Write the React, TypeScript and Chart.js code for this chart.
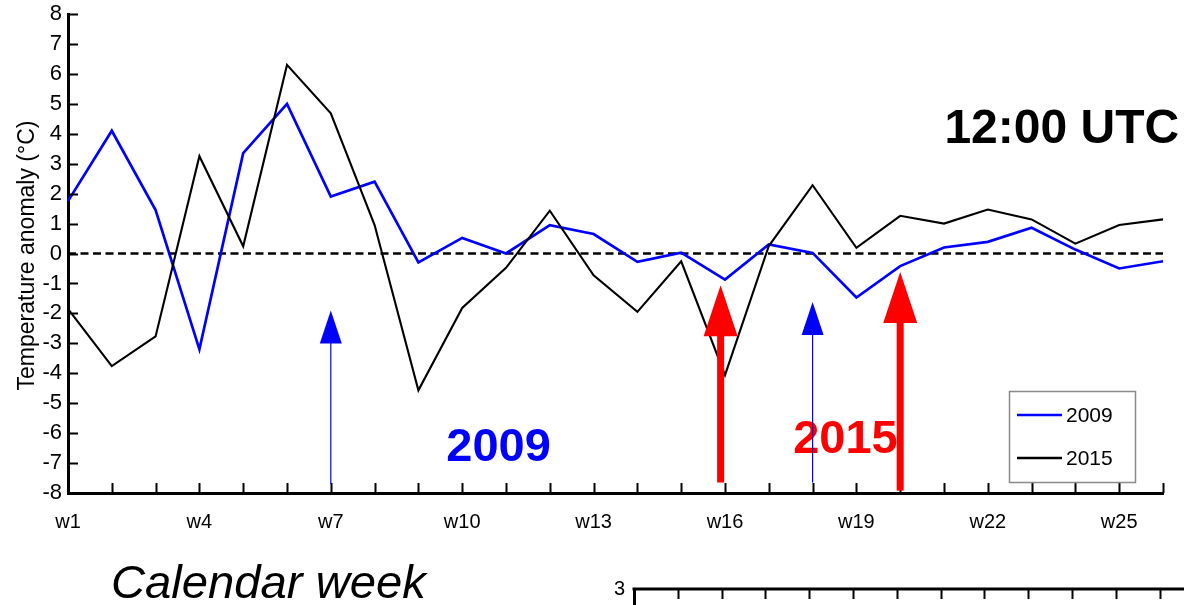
import { useEffect, useRef } from 'react';
import { Chart, registerables } from 'chart.js';

Chart.register(...registerables);

const FONT = "'Liberation Sans', Arial, Helvetica, sans-serif";

// Calendar weeks on the x axis; every third one carries a label.
const WEEKS = [
  'w1', 'w2', 'w3', 'w4', 'w5', 'w6', 'w7', 'w8', 'w9', 'w10', 'w11', 'w12', 'w13',
  'w14', 'w15', 'w16', 'w17', 'w18', 'w19', 'w20', 'w21', 'w22', 'w23', 'w24', 'w25', 'w26',
];
const LABEL_EVERY = 3;

// Weekly temperature anomaly at 12:00 UTC (°C).
const ANOMALY_2009 = [
  1.75, 4.1, 1.45, -3.2, 3.35, 5.0, 1.9, 2.4, -0.3, 0.52, 0.0, 0.95, 0.65,
  -0.28, 0.03, -0.87, 0.3, 0.02, -1.47, -0.42, 0.2, 0.39, 0.86, 0.13, -0.5, -0.26,
];
const ANOMALY_2015 = [
  -1.85, -3.76, -2.77, 3.25, 0.24, 6.3, 4.68, 0.95, -4.57, -1.82, -0.48, 1.43, -0.73,
  -1.95, -0.26, -4.06, 0.25, 2.28, 0.19, 1.26, 1.0, 1.47, 1.14, 0.33, 0.95, 1.14,
];
const SERIES_NAMES = ['2009', '2015'];
const SERIES_COLORS = ['#0000ff', '#000000'];

const Y_MIN = -8;
const Y_MAX = 8;
const Y_STEP = 1;

// Event arrows: week position, tip value, tail value, year.
const ARROW_WEEK = [7, 15.9, 18, 20];
const ARROW_TIP = [-1.9, -1.06, -1.62, -0.62];
const ARROW_TAIL = [-7.7, -7.65, -7.65, -7.92];
const ARROW_YEAR = ['2009', '2015', '2009', '2015'];

// Lower panel (only its top edge is in view).
const LOWER_Y_MIN = -3;
const LOWER_Y_MAX = 3;

const ARROW_STYLE: Record<string, { color: string; shaft: number; head: number; headLen: number }> = {
  '2009': { color: '#0000ff', shaft: 1.2, head: 22, headLen: 33 },
  '2015': { color: '#ff0000', shaft: 7, head: 34, headLen: 51 },
};

const YEAR_LABELS = [
  { text: '2009', week: 10.83, value: -6.92, color: '#0000ff' },
  { text: '2015', week: 18.75, value: -6.67, color: '#ff0000' },
];

function weekIndex(week: number) {
  return week - 1;
}

// Draws text so that its ink box has the given width and ascent, left edge at x.
function inkText(
  ctx: CanvasRenderingContext2D,
  text: string,
  x: number,
  baseline: number,
  width: number,
  ascent: number,
) {
  ctx.save();
  ctx.textAlign = 'left';
  ctx.textBaseline = 'alphabetic';
  const m = ctx.measureText(text);
  const inkW = m.actualBoundingBoxLeft + m.actualBoundingBoxRight;
  const inkH = m.actualBoundingBoxAscent;
  ctx.translate(x, baseline);
  ctx.scale(width / inkW, ascent / inkH);
  ctx.fillText(text, m.actualBoundingBoxLeft, 0);
  ctx.restore();
}

const mainDecor = {
  id: 'mainDecor',
  beforeDatasetsDraw(chart: any) {
    const { ctx, chartArea, scales } = chart;
    const y0 = scales.y.getPixelForValue(0);
    ctx.save();
    ctx.strokeStyle = '#000';
    ctx.lineWidth = 2.5;
    ctx.setLineDash([8, 4.5]);
    ctx.beginPath();
    ctx.moveTo(chartArea.left, y0);
    ctx.lineTo(chartArea.right, y0);
    ctx.stroke();
    ctx.restore();
  },
  afterDatasetsDraw(chart: any) {
    const { ctx, chartArea, scales } = chart;
    const { x, y } = scales;
    ctx.save();

    // inward tick marks
    ctx.strokeStyle = '#000';
    ctx.lineWidth = 2;
    ctx.beginPath();
    for (let i = 0; i < WEEKS.length; i++) {
      const px = Math.round(x.getPixelForValue(i)) + 0.5;
      ctx.moveTo(px, chartArea.bottom);
      ctx.lineTo(px, chartArea.bottom - 10);
    }
    for (let v = Y_MIN; v <= Y_MAX; v += Y_STEP) {
      const py = Math.round(y.getPixelForValue(v)) + 0.5;
      ctx.moveTo(chartArea.left, py);
      ctx.lineTo(chartArea.left + 10, py);
    }
    ctx.stroke();

    // year labels
    ctx.font = `bold 47px ${FONT}`;
    ctx.textAlign = 'center';
    ctx.textBaseline = 'alphabetic';
    for (const lab of YEAR_LABELS) {
      ctx.fillStyle = lab.color;
      ctx.fillText(lab.text, x.getPixelForValue(weekIndex(lab.week)), y.getPixelForValue(lab.value));
    }

    // arrows
    for (let i = 0; i < ARROW_WEEK.length; i++) {
      const st = ARROW_STYLE[ARROW_YEAR[i]];
      const px = x.getPixelForValue(weekIndex(ARROW_WEEK[i]));
      const tip = y.getPixelForValue(ARROW_TIP[i]);
      const tail = y.getPixelForValue(ARROW_TAIL[i]);
      ctx.fillStyle = st.color;
      ctx.fillRect(px - st.shaft / 2, tip + st.headLen - 1, st.shaft, tail - tip - st.headLen + 1);
      ctx.beginPath();
      ctx.moveTo(px, tip);
      ctx.lineTo(px - st.head / 2, tip + st.headLen);
      ctx.lineTo(px + st.head / 2, tip + st.headLen);
      ctx.closePath();
      ctx.fill();
    }

    // legend box
    const lx = chartArea.right - 154;
    const ly = chartArea.bottom - 102;
    ctx.fillStyle = '#fff';
    ctx.fillRect(lx, ly, 126, 91);
    ctx.strokeStyle = '#8a8a8a';
    ctx.lineWidth = 1.5;
    ctx.strokeRect(lx + 0.5, ly + 0.5, 126, 91);
    ctx.font = `21px ${FONT}`;
    ctx.textAlign = 'left';
    ctx.textBaseline = 'middle';
    SERIES_NAMES.forEach((name, i) => {
      const ry = ly + 24 + i * 43;
      ctx.strokeStyle = SERIES_COLORS[i];
      ctx.lineWidth = 2.5;
      ctx.beginPath();
      ctx.moveTo(lx + 8, ry);
      ctx.lineTo(lx + 53, ry);
      ctx.stroke();
      ctx.fillStyle = '#000';
      ctx.fillText(name, lx + 57, ry + 1);
    });

    // y axis title
    ctx.save();
    ctx.translate(33.5, (chartArea.top + chartArea.bottom) / 2 + 2);
    ctx.rotate(-Math.PI / 2);
    ctx.font = `23px ${FONT}`;
    ctx.fillStyle = '#000';
    ctx.textAlign = 'center';
    ctx.textBaseline = 'alphabetic';
    ctx.fillText('Temperature anomaly (°C)', 0, 0);
    ctx.restore();

    // panel title
    ctx.fillStyle = '#000';
    ctx.font = `bold 46px ${FONT}`;
    inkText(ctx, '12:00 UTC', 946.5, 143, 231.5, 34);

    // x axis title
    ctx.font = `italic 46px ${FONT}`;
    inkText(ctx, 'Calendar week', 113, 598, 315, 34);

    ctx.restore();
  },
};

const lowerDecor = {
  id: 'lowerDecor',
  afterDraw(chart: any) {
    const { ctx, chartArea, scales } = chart;
    const { x } = scales;
    ctx.save();
    ctx.strokeStyle = '#000';
    ctx.lineWidth = 3;
    ctx.beginPath();
    ctx.moveTo(chartArea.left - 1.5, chartArea.top);
    ctx.lineTo(chartArea.right, chartArea.top);
    ctx.stroke();
    ctx.lineWidth = 2;
    ctx.beginPath();
    for (let i = 0; i < WEEKS.length; i++) {
      const px = Math.round(x.getPixelForValue(i)) + 0.5;
      ctx.moveTo(px, chartArea.top);
      ctx.lineTo(px, chartArea.top + 10);
    }
    ctx.stroke();
    ctx.restore();
  },
};

export default function App() {
  const mainRef = useRef<HTMLCanvasElement>(null);
  const lowerRef = useRef<HTMLCanvasElement>(null);

  useEffect(() => {
    const main = new Chart(mainRef.current as HTMLCanvasElement, {
      type: 'line',
      data: {
        labels: WEEKS,
        datasets: [
          {
            label: SERIES_NAMES[0],
            data: ANOMALY_2009,
            borderColor: SERIES_COLORS[0],
            borderWidth: 2.7,
            pointRadius: 0,
            tension: 0,
            order: 1,
          },
          {
            label: SERIES_NAMES[1],
            data: ANOMALY_2015,
            borderColor: SERIES_COLORS[1],
            borderWidth: 2.1,
            pointRadius: 0,
            tension: 0,
            order: 0,
          },
        ],
      },
      options: {
        animation: false,
        responsive: true,
        maintainAspectRatio: false,
        events: [],
        layout: { padding: { left: 0, top: 14, right: 21, bottom: 71 } },
        plugins: { legend: { display: false }, tooltip: { enabled: false } },
        scales: {
          x: {
            type: 'category',
            grid: { display: false, drawTicks: false },
            border: { display: true, width: 3, color: '#000' },
            ticks: {
              autoSkip: false,
              maxRotation: 0,
              padding: 17,
              color: '#000',
              font: { family: FONT, size: 20 },
              callback: (_v: any, i: number) => (i % LABEL_EVERY === 0 ? WEEKS[i] : ''),
            },
            afterFit: (s: any) => {
              s.height = 41;
              s.paddingLeft = 0;
              s.paddingRight = 0;
            },
          },
          y: {
            min: Y_MIN,
            max: Y_MAX,
            grid: { display: false, drawTicks: false },
            border: { display: true, width: 3, color: '#000' },
            ticks: {
              stepSize: Y_STEP,
              padding: 6,
              color: '#000',
              font: { family: FONT, size: 22 },
            },
            afterFit: (s: any) => {
              s.width = 68;
              s.paddingTop = 0;
              s.paddingBottom = 0;
            },
          },
        },
      },
      plugins: [mainDecor],
    });

    const lower = new Chart(lowerRef.current as HTMLCanvasElement, {
      type: 'line',
      data: { labels: WEEKS, datasets: [] },
      options: {
        animation: false,
        responsive: true,
        maintainAspectRatio: false,
        events: [],
        layout: { padding: { left: 0, top: 29, right: 21, bottom: 0 } },
        plugins: { legend: { display: false }, tooltip: { enabled: false } },
        scales: {
          x: { type: 'category', display: false },
          y: {
            min: LOWER_Y_MIN,
            max: LOWER_Y_MAX,
            grid: { display: false, drawTicks: false },
            border: { display: true, width: 3, color: '#000' },
            ticks: { stepSize: 1, padding: 9, color: '#000', font: { family: FONT, size: 20 } },
            afterFit: (s: any) => {
              s.width = 34;
              s.paddingTop = 0;
              s.paddingBottom = 0;
            },
          },
        },
      },
      plugins: [lowerDecor],
    });

    return () => {
      main.destroy();
      lower.destroy();
    };
  }, []);

  return (
    <div
      style={{
        position: 'absolute',
        left: 0,
        top: 0,
        width: 1184,
        height: 605,
        overflow: 'hidden',
        background: '#fff',
      }}
    >
      <div style={{ position: 'absolute', left: 600, top: 560, width: 1150, height: 400 }}>
        <canvas ref={lowerRef} />
      </div>
      <div style={{ position: 'absolute', left: 0, top: 0, width: 1184, height: 605 }}>
        <canvas ref={mainRef} />
      </div>
    </div>
  );
}
